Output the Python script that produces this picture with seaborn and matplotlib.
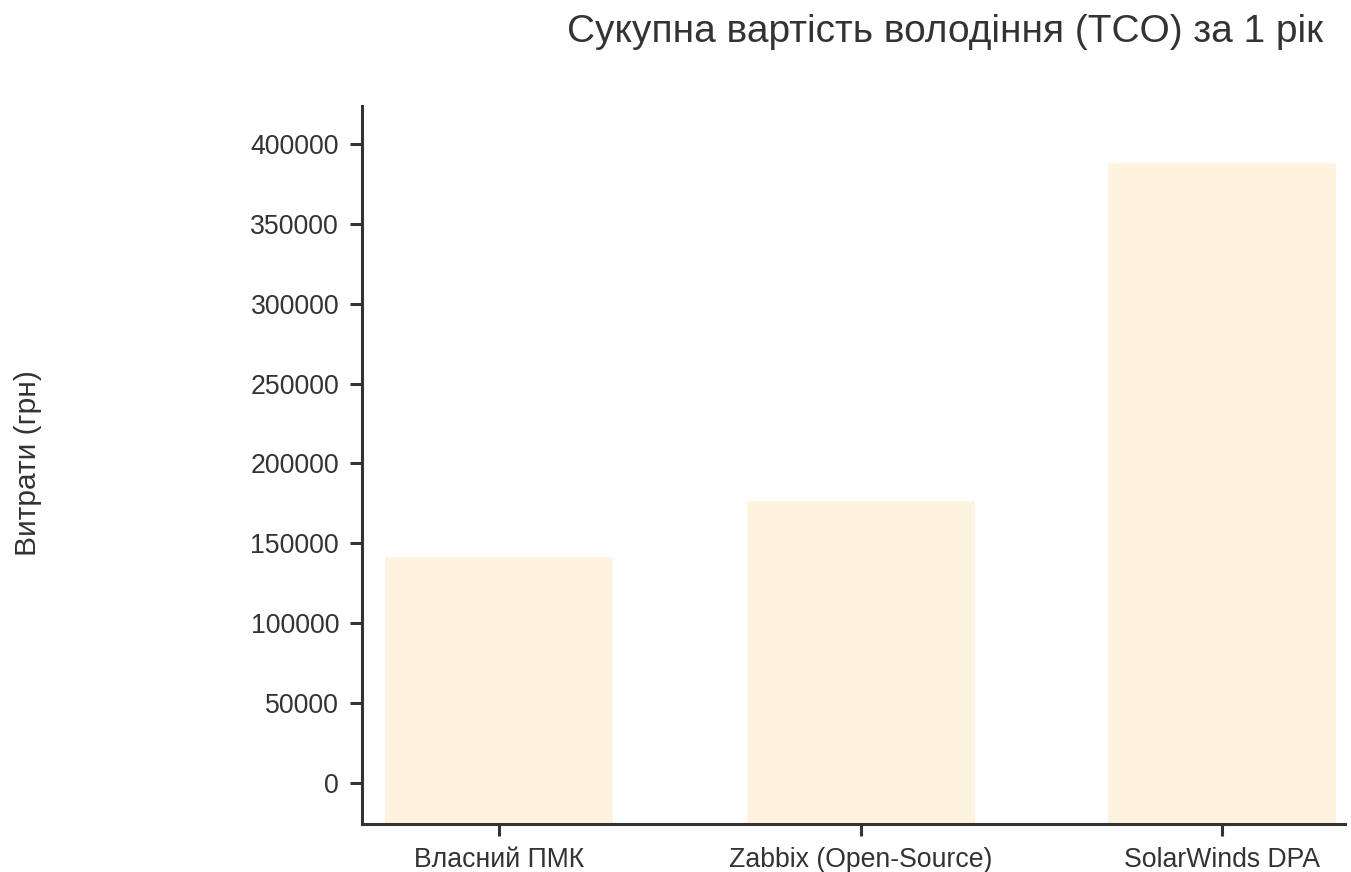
import matplotlib
matplotlib.use("Agg")
import matplotlib.pyplot as plt
import seaborn as sns
import pandas as pd

categories = ["Власний ПМК", "Zabbix (Open-Source)", "SolarWinds DPA"]
costs = [141500, 176500, 388000]
yticks = [0, 50000, 100000, 150000, 200000, 250000, 300000, 350000, 400000]
title = "Сукупна вартість володіння (TCO) за 1 рік"
ylabel = "Витрати (грн)"

sns.set_style("ticks")
plt.rcParams["font.family"] = ["Liberation Sans", "DejaVu Sans"]
text_color = "#333333"
spine_color = "#333333"

df = pd.DataFrame({"category": categories, "cost": costs})

fig = plt.figure(figsize=(13.51, 8.72), dpi=100)
ax = fig.add_axes([362 / 1351, 1 - 824 / 872, (1345 - 362) / 1351, (824 - 106) / 872])

sns.barplot(data=df, x="category", y="cost", color="#fef3de", saturation=1,
            width=0.63, ax=ax, linewidth=0, errorbar=None)

ymin, ymax = -25700, 423800
ax.set_ylim(ymin, ymax)
ax.set_xlim(-0.38, 2.34)
# bars run from the bottom of the plotting area
for p in ax.patches:
    top = p.get_y() + p.get_height()
    p.set_y(ymin)
    p.set_height(top - ymin)

ax.set_yticks(yticks)
ax.set_yticklabels([str(v) for v in yticks])
ax.set_xlabel("")
ax.set_ylabel("")
sns.despine(ax=ax)
for s in ["left", "bottom"]:
    ax.spines[s].set_color(spine_color)
    ax.spines[s].set_linewidth(2.2)
ax.tick_params(axis="y", length=8.5, width=2.2, color=spine_color,
               labelsize=19.2, labelcolor=text_color, pad=8)
ax.tick_params(axis="x", length=8.5, width=2.2, color=spine_color,
               labelsize=19.2, labelcolor=text_color, pad=8)

fig.text(945 / 1351, 1 - 42 / 872, title, ha="center", va="baseline",
         fontsize=28, color=text_color)
fig.text(28 / 1351, 1 - 463 / 872, ylabel, ha="center", va="center",
         rotation=90, fontsize=21.5, color=text_color)

fig.savefig("out.png", dpi=100)
